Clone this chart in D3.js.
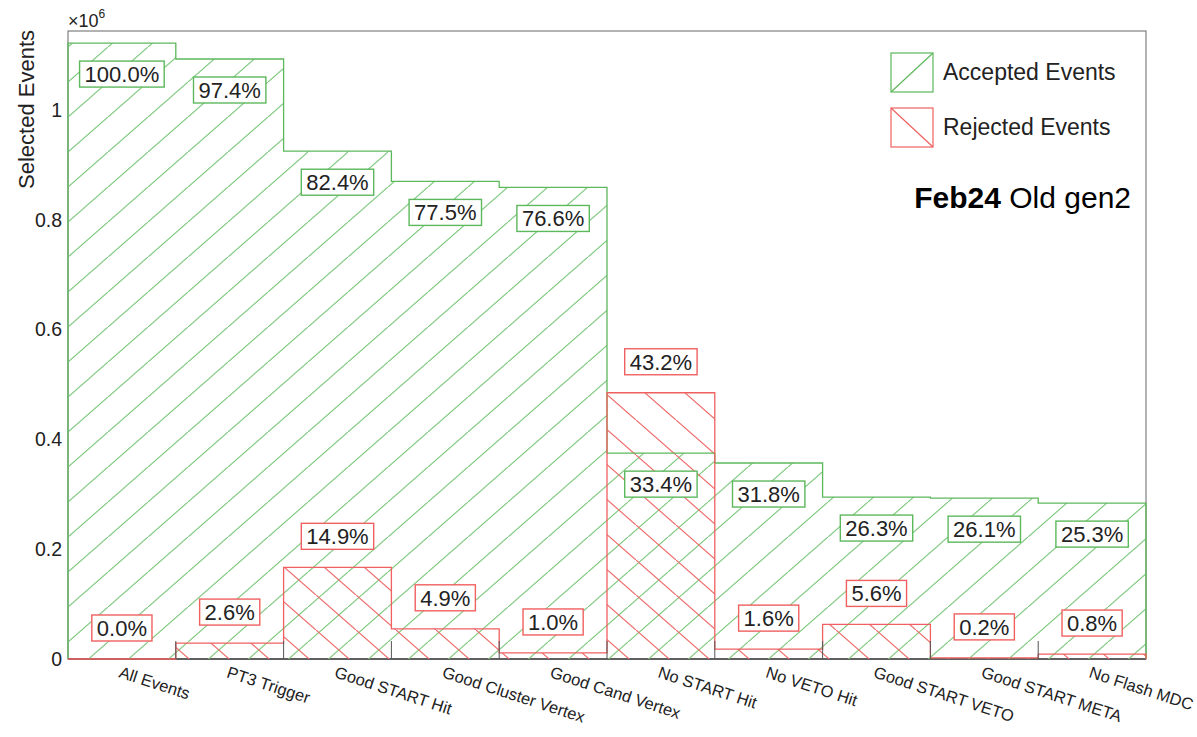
<!DOCTYPE html>
<html>
<head>
<meta charset="utf-8">
<script src="https://cdn.jsdelivr.net/npm/d3@7"></script>
<style>
  body { margin: 0; background: #fff; }
  text { font-family: "Liberation Sans", Arial, sans-serif; fill: #222; }
</style>
</head>
<body>
<div id="chart"></div>
<script>
// cut-flow categories (x bins)
var cuts = ["All Events", "PT3 Trigger", "Good START Hit", "Good Cluster Vertex",
            "Good Cand Vertex", "No START Hit", "No VETO Hit", "Good START VETO",
            "Good START META", "No Flash MDC"];
// selected events, in units of 10^6
var accepted = [1.122, 1.093, 0.925, 0.870, 0.859, 0.375, 0.357, 0.295, 0.293, 0.284];
var rejected = [0.000, 0.029, 0.167, 0.055, 0.011, 0.485, 0.018, 0.063, 0.002, 0.009];
var acceptedLabels = ["100.0%", "97.4%", "82.4%", "77.5%", "76.6%", "33.4%", "31.8%", "26.3%", "26.1%", "25.3%"];
var rejectedLabels = ["0.0%", "2.6%", "14.9%", "4.9%", "1.0%", "43.2%", "1.6%", "5.6%", "0.2%", "0.8%"];
var yTicks = [0, 0.2, 0.4, 0.6, 0.8, 1];

var width = 1197, height = 737;
var frameL = 68, frameR = 1146, frameT = 31, frameB = 659;
var green = "#5cb85c", greenHatch = "#7fc97f";
var red = "#f06060", redHatch = "#ee6a6a";

var svg = d3.select("#chart").append("svg")
    .attr("width", width).attr("height", height);

var x = d3.scaleBand().domain(cuts).range([frameL, frameR]).padding(0);
var y = d3.scaleLinear().domain([0, 1.144]).range([frameB, frameT]);

// hatch patterns (ROOT style 3004 / 3005)
var defs = svg.append("defs");
defs.append("pattern").attr("id", "hatchG")
    .attr("patternUnits", "userSpaceOnUse").attr("width", 40).attr("height", 35)
    .attr("x", frameL).attr("y", 12)
  .append("path").attr("d", "M-4,38.5 L44,-3.5")
    .attr("stroke", greenHatch).attr("stroke-width", 1.2).attr("fill", "none");
defs.append("pattern").attr("id", "hatchR")
    .attr("patternUnits", "userSpaceOnUse").attr("width", 40).attr("height", 35)
    .attr("x", frameL + 8).attr("y", 0)
  .append("path").attr("d", "M-4,-3.5 L44,38.5")
    .attr("stroke", redHatch).attr("stroke-width", 1.2).attr("fill", "none");

// step histogram path
var stepArea = function(vals) {
  var pts = [[frameL, y(0)]];
  vals.forEach(function(v, i) {
    pts.push([x(cuts[i]), y(v)]);
    pts.push([x(cuts[i]) + x.bandwidth(), y(v)]);
  });
  pts.push([frameR, y(0)]);
  return "M" + pts.map(function(p) { return p.join(","); }).join("L");
};

// frame
svg.append("rect").attr("x", frameL).attr("y", frameT)
    .attr("width", frameR - frameL).attr("height", frameB - frameT)
    .attr("fill", "none").attr("stroke", "#666").attr("stroke-width", 1);
svg.append("line").attr("x1", frameL).attr("x2", frameR)
    .attr("y1", frameB).attr("y2", frameB).attr("stroke", "#444").attr("stroke-width", 1.3);

svg.append("path").attr("d", stepArea(accepted) + "Z")
    .attr("fill", "url(#hatchG)").attr("stroke", "none");
svg.append("path").attr("d", stepArea(rejected) + "Z")
    .attr("fill", "url(#hatchR)").attr("stroke", "none");
svg.append("path").attr("d", stepArea(accepted))
    .attr("fill", "none").attr("stroke", green).attr("stroke-width", 1.3);
svg.append("path").attr("d", stepArea(rejected))
    .attr("fill", "none").attr("stroke", red).attr("stroke-width", 1.3);

// x ticks at bin edges (inside)
var edges = cuts.slice(1).map(function(c) { return x(c); });
svg.selectAll(".xtick").data(edges).enter().append("line")
    .attr("x1", function(d) { return d; }).attr("x2", function(d) { return d; })
    .attr("y1", frameB).attr("y2", frameB - 18)
    .attr("stroke", "#555").attr("stroke-width", 1);

// y axis labels
svg.selectAll(".ylab").data(yTicks).enter().append("text")
    .attr("x", frameL - 6).attr("y", function(d) { return y(d); })
    .attr("dy", "0.35em").attr("text-anchor", "end")
    .attr("font-size", 19.5)
    .text(function(d) { return d3.format("")(d); });

var mult = svg.append("text").attr("x", frameL).attr("y", 27).attr("font-size", 18);
mult.append("tspan").text("\u00d710");
mult.append("tspan").attr("font-size", 12).attr("dy", -9).text("6");

svg.append("text").attr("transform", "translate(34,30) rotate(-90)")
    .attr("text-anchor", "end").attr("font-size", 22).text("Selected Events");

// x labels, rotated
svg.selectAll(".xlab").data(cuts).enter().append("text")
    .attr("transform", function(d) {
      return "translate(" + (x(d) + x.bandwidth() / 2 - 4) + "," + (frameB + 18) + ") rotate(18)";
    })
    .attr("font-size", 16.5).text(function(d) { return d; });

// percentage boxes
var addLabel = function(txt, cx, cy, col) {
  var g = svg.append("g");
  var r = g.append("rect");
  var t = g.append("text").attr("x", cx).attr("y", cy).attr("dy", "0.36em")
      .attr("text-anchor", "middle").attr("font-size", 22).text(txt);
  var w = t.node().getComputedTextLength() + 10;
  r.attr("x", cx - w / 2).attr("y", cy - 13).attr("width", w).attr("height", 26)
    .attr("fill", "#fff").attr("stroke", col).attr("stroke-width", 1.4);
};
cuts.forEach(function(c, i) {
  var cx = x(c) + x.bandwidth() / 2;
  addLabel(acceptedLabels[i], cx, y(accepted[i]) + 31, green);
  addLabel(rejectedLabels[i], cx, y(rejected[i]) - 31, red);
});

// legend
var legend = svg.append("g");
legend.append("rect").attr("x", 891).attr("y", 53).attr("width", 42).attr("height", 39)
    .attr("fill", "#fff").attr("stroke", green).attr("stroke-width", 1.2);
legend.append("line").attr("x1", 891).attr("y1", 92).attr("x2", 933).attr("y2", 53)
    .attr("stroke", green).attr("stroke-width", 1.2);
legend.append("rect").attr("x", 891).attr("y", 108).attr("width", 42).attr("height", 39)
    .attr("fill", "#fff").attr("stroke", red).attr("stroke-width", 1.2);
legend.append("line").attr("x1", 891).attr("y1", 108).attr("x2", 933).attr("y2", 147)
    .attr("stroke", red).attr("stroke-width", 1.2);
legend.append("text").attr("x", 943).attr("y", 72).attr("dy", "0.35em")
    .attr("font-size", 23).text("Accepted Events");
legend.append("text").attr("x", 943).attr("y", 127).attr("dy", "0.35em")
    .attr("font-size", 23).text("Rejected Events");

var tag = svg.append("text").attr("x", 1131).attr("y", 208)
    .attr("text-anchor", "end").attr("font-size", 30);
tag.append("tspan").attr("font-weight", "bold").style("fill", "#000").text("Feb24");
tag.append("tspan").style("fill", "#000").text(" Old gen2");
</script>
</body>
</html>
